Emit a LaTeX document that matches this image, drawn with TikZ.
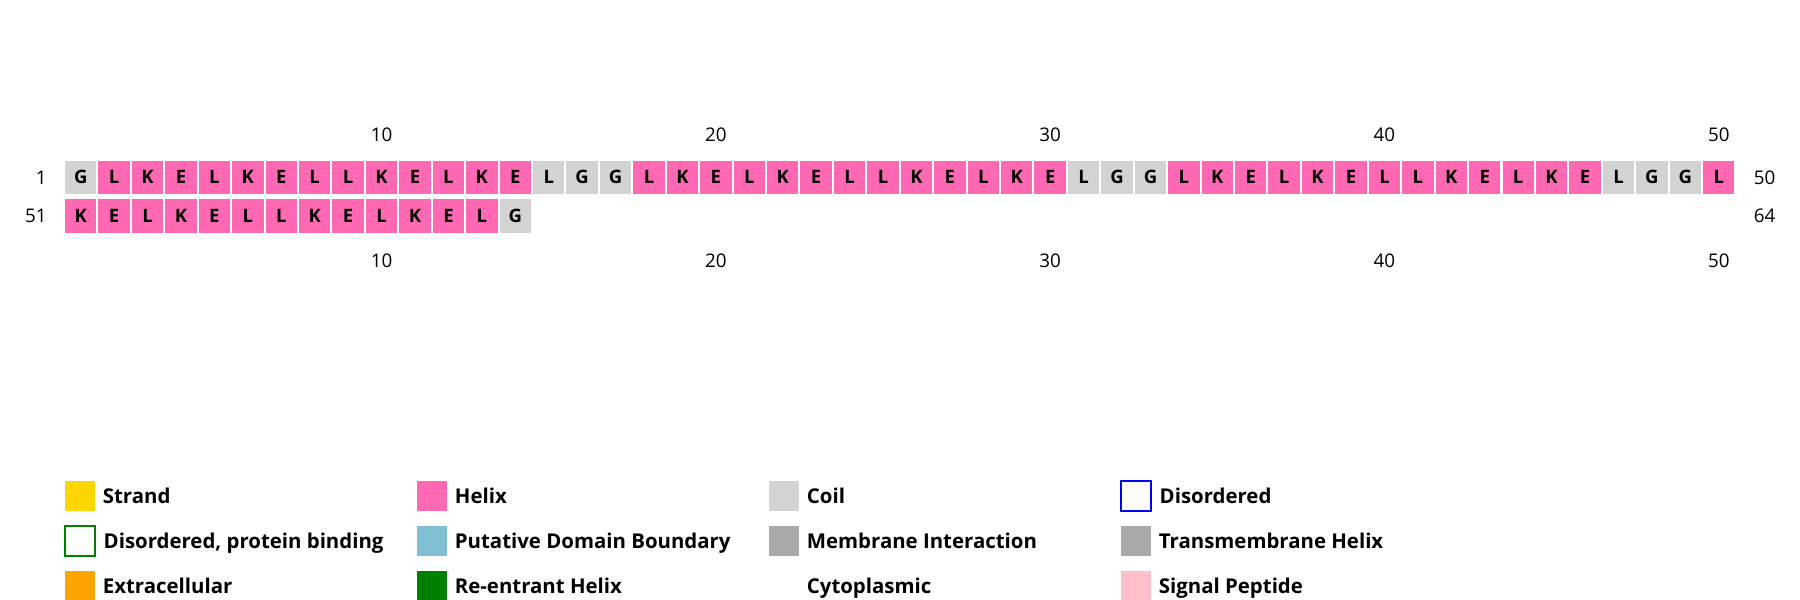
\documentclass[tikz,border=0pt]{standalone}
\usepackage{fontspec}
\setmainfont{Open Sans}
\usepackage{xcolor}
\usepackage{tikz}
\usetikzlibrary{positioning}

\definecolor{helixpink}{HTML}{FF69B4}
\definecolor{coilgray}{HTML}{D3D3D3}
\definecolor{strandgold}{HTML}{FFD700}
\definecolor{extraorange}{HTML}{FFA500}
\definecolor{domainblue}{HTML}{80BFD4}
\definecolor{reentgreen}{HTML}{008000}
\definecolor{membgray}{HTML}{A9A9A9}
\definecolor{signalpink}{HTML}{FFC0CB}

\begin{document}
\begin{tikzpicture}[
  x=1pt,y=-1pt,
  cell/.style={rectangle,minimum width=31.4pt,minimum height=33.3pt,inner sep=0pt,font=\fontsize{18.5}{20}\selectfont\bfseries},
  helix/.style={fill=helixpink},
  coil/.style={fill=coilgray},
  strand/.style={fill=strandgold},
  disord/.style={draw=blue,line width=2pt,fill=white},
  dpbind/.style={draw=reentgreen,line width=2pt,fill=white},
  boundary/.style={fill=domainblue},
  membint/.style={fill=membgray},
  tmhelix/.style={fill=membgray},
  extracell/.style={fill=extraorange},
  reentrant/.style={fill=reentgreen},
  cyto/.style={},
  signal/.style={fill=signalpink},
  num/.style={inner sep=0pt,font=\fontsize{18.8}{20}\selectfont},
  swatch/.style={rectangle,minimum size=30pt,inner sep=0pt},
  legtext/.style={inner sep=0pt,anchor=base west,font=\fontsize{20.4}{24}\selectfont\bfseries}
]
\useasboundingbox (0,0) rectangle (1800,600);

% residues, 50 per row
\foreach \aa/\ss [count=\i from 0] in {G/coil,
  L/helix,K/helix,E/helix,L/helix,K/helix,E/helix,L/helix,L/helix,K/helix,E/helix,L/helix,K/helix,E/helix,
  L/coil,G/coil,G/coil,
  L/helix,K/helix,E/helix,L/helix,K/helix,E/helix,L/helix,L/helix,K/helix,E/helix,L/helix,K/helix,E/helix,
  L/coil,G/coil,G/coil,
  L/helix,K/helix,E/helix,L/helix,K/helix,E/helix,L/helix,L/helix,K/helix,E/helix,L/helix,K/helix,E/helix,
  L/coil,G/coil,G/coil,
  L/helix,K/helix,E/helix,L/helix,K/helix,E/helix,L/helix,L/helix,K/helix,E/helix,L/helix,K/helix,E/helix,L/helix,
  G/coil}{
  \pgfmathtruncatemacro\col{mod(\i,50)}
  \pgfmathtruncatemacro\row{div(\i,50)}
  \pgfmathtruncatemacro\rid{\i+1}
  \node[cell,\ss] (res\rid) at ({80.7+\col*33.43},{177.35+\row*38.6}) {\aa};
}

% position ticks
\foreach \t in {10,20,30,40,50}{
  \node[num,above=19pt of res\t] (top\t) {\t};
  \node[num,below=59.4pt of res\t] (bot\t) {\t};
}

\node[num,left=18pt of res1] (start1) {1};
\node[num,left=18pt of res51] (start2) {51};
\node[num,right=19pt of res50] (end1) {50};
\node[num,anchor=west] (end2) at (end1.west |- res51) {64};

% legend
\foreach \lbl/\ss [count=\k from 0] in {Strand/strand,Helix/helix,Coil/coil,Disordered/disord,
  {Disordered, protein binding}/dpbind,Putative Domain Boundary/boundary,Membrane Interaction/membint,Transmembrane Helix/tmhelix,
  Extracellular/extracell,Re-entrant Helix/reentrant,Cytoplasmic/cyto,Signal Peptide/signal}{
  \pgfmathtruncatemacro\col{mod(\k,4)}
  \pgfmathtruncatemacro\row{div(\k,4)}
  \node[swatch,\ss] (key\k) at ({80+\col*352},{496+\row*44.75}) {};
  \node[legtext] (lbl\k) at ([shift={(7.5pt,-7.5pt)}]key\k.east) {\lbl};
}

\end{tikzpicture}
\end{document}
